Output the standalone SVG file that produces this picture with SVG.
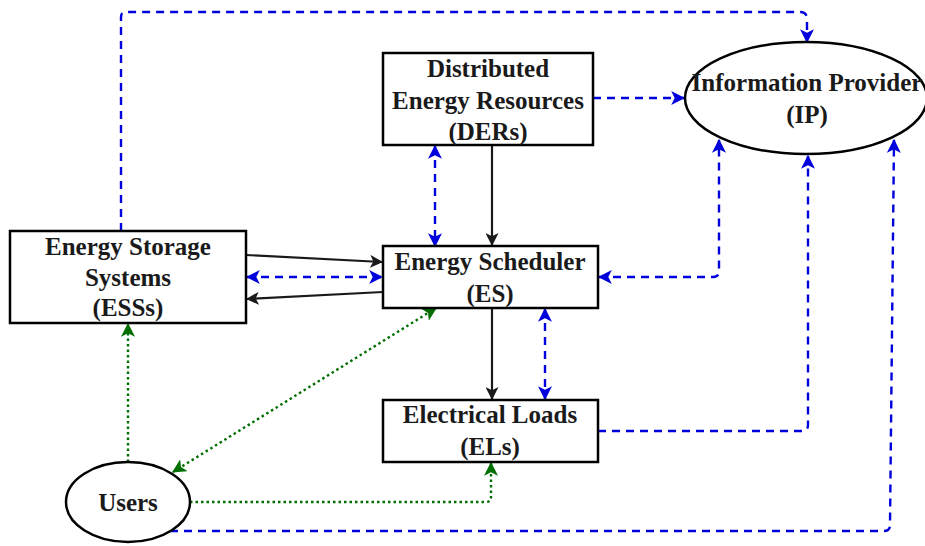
<svg xmlns="http://www.w3.org/2000/svg" width="925" height="546" viewBox="0 0 925 546">
<style>
.box{fill:#fff;stroke:#000;stroke-width:2.5}
.t{font-family:"Liberation Serif","Times New Roman",serif;font-weight:bold;font-size:25px;fill:#1a1a1a;text-anchor:middle}
.blk{fill:none;stroke:#1a1a1a;stroke-width:2.2}
.blu{fill:none;stroke:#0000dd;stroke-width:2.4;stroke-dasharray:8 6}
.grn{fill:none;stroke:#006e00;stroke-width:2.4;stroke-dasharray:2.5 3}
</style>
<defs>
<marker id="ak" viewBox="0 0 12 12" refX="11" refY="6" markerWidth="13" markerHeight="13" markerUnits="userSpaceOnUse" orient="auto-start-reverse"><path d="M0,0 L12,6 L0,12 L3,6 Z" fill="#1a1a1a"/></marker>
<marker id="ab" viewBox="0 0 12 12" refX="11" refY="6" markerWidth="14" markerHeight="14" markerUnits="userSpaceOnUse" orient="auto-start-reverse"><path d="M0,0 L12,6 L0,12 L3,6 Z" fill="#0000dd"/></marker>
<marker id="ag" viewBox="0 0 12 12" refX="11" refY="6" markerWidth="14" markerHeight="14" markerUnits="userSpaceOnUse" orient="auto-start-reverse"><path d="M0,0 L12,6 L0,12 L3,6 Z" fill="#006e00"/></marker>
</defs>
<rect width="925" height="546" fill="#fff"/>
<g id="connectors">
<path class="blu" d="M121,231 V17 Q121,12 126,12 H800 Q807,12 807,19 V42" marker-end="url(#ab)"/>
<path class="blu" d="M593,98 H684" marker-end="url(#ab)"/>
<path class="blu" d="M435,146 V246" marker-start="url(#ab)" marker-end="url(#ab)"/>
<path class="blk" d="M492,145 V245" marker-end="url(#ak)"/>
<path class="blk" d="M246,255 L382,262" marker-end="url(#ak)"/>
<path class="blu" d="M247,277 H382" marker-start="url(#ab)" marker-end="url(#ab)"/>
<path class="blk" d="M383,292 L247,299" marker-end="url(#ak)"/>
<path class="blu" d="M599,277 H713 Q719,277 719,271 V140" marker-start="url(#ab)" marker-end="url(#ab)"/>
<path class="blk" d="M492,308 V399" marker-end="url(#ak)"/>
<path class="blu" d="M545,309 V399" marker-start="url(#ab)" marker-end="url(#ab)"/>
<path class="blu" d="M598,431 H802 Q808,431 808,425 V156" marker-end="url(#ab)"/>
<path class="blu" d="M170,531 H884 Q890,531 890,525 L894,140" marker-end="url(#ab)"/>
<path class="grn" d="M128,462 V324" marker-end="url(#ag)"/>
<path class="grn" d="M173,472 L436,308" marker-start="url(#ag)" marker-end="url(#ag)"/>
<path class="grn" d="M190,502 H486 Q491,502 491,497 V463" marker-end="url(#ag)"/>
</g>
<g id="der"><rect class="box" x="383" y="53" width="210" height="92"/>
<text class="t" x="488" y="77">Distributed</text><text class="t" x="488" y="109">Energy Resources</text><text class="t" x="488" y="140">(DERs)</text></g>
<g id="ip"><ellipse class="box" cx="806" cy="98" rx="121" ry="56"/>
<text class="t" x="807" y="91">Information Provider</text><text class="t" x="807" y="123">(IP)</text></g>
<g id="ess"><rect class="box" x="10" y="231" width="236" height="92"/>
<text class="t" x="128" y="255">Energy Storage</text><text class="t" x="128" y="286">Systems</text><text class="t" x="128" y="316">(ESSs)</text></g>
<g id="es"><rect class="box" x="383" y="246" width="215" height="62"/>
<text class="t" x="490" y="270">Energy Scheduler</text><text class="t" x="490" y="302">(ES)</text></g>
<g id="el"><rect class="box" x="383" y="400" width="215" height="62"/>
<text class="t" x="490" y="423">Electrical Loads</text><text class="t" x="490" y="455">(ELs)</text></g>
<g id="users"><ellipse class="box" cx="128" cy="502" rx="62" ry="40"/>
<text class="t" x="128" y="511">Users</text></g>
</svg>
